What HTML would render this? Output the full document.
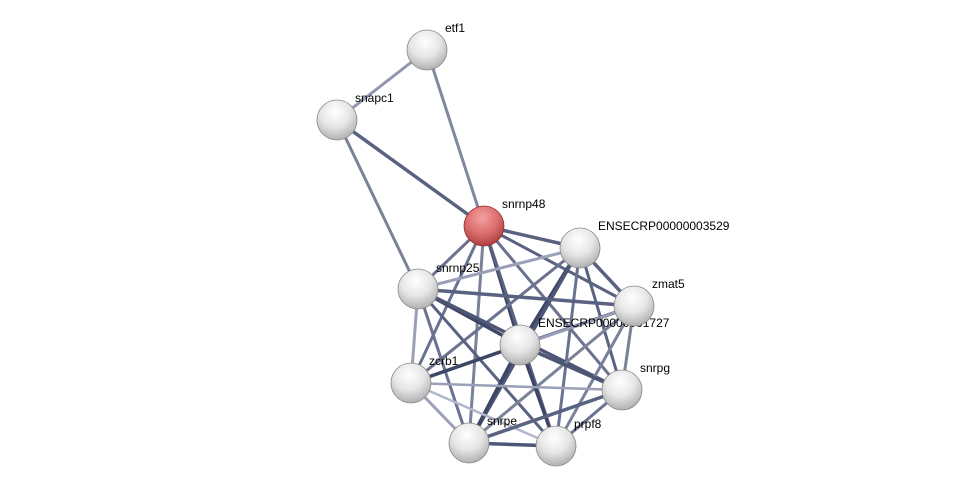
<!DOCTYPE html>
<html><head><meta charset="utf-8"><style>
html,body{margin:0;padding:0;background:#fff;}
svg{display:block;}
text{font-family:"Liberation Sans",sans-serif;font-size:12px;fill:#000;}
</style></head><body>
<svg width="975" height="491" viewBox="0 0 975 491" xmlns="http://www.w3.org/2000/svg">
<defs>
<radialGradient id="g" cx="0.45" cy="0.3" r="0.75">
<stop offset="0" stop-color="#ffffff"/><stop offset="0.5" stop-color="#e6e6e6"/><stop offset="1" stop-color="#a8a8a8"/>
</radialGradient>
<radialGradient id="r" cx="0.45" cy="0.3" r="0.75">
<stop offset="0" stop-color="#f4a0a0"/><stop offset="0.5" stop-color="#de7070"/><stop offset="1" stop-color="#a83838"/>
</radialGradient>
</defs>
<g stroke-linecap="round" fill="none">
<line x1="427" y1="50" x2="337" y2="120" stroke="#9096ae" stroke-width="3"/>
<line x1="427" y1="50" x2="484" y2="226" stroke="#8088a0" stroke-width="3"/>
<line x1="337" y1="120" x2="484" y2="226" stroke="#5a6282" stroke-width="3.5"/>
<line x1="337" y1="120" x2="418" y2="289" stroke="#7a8298" stroke-width="3"/>
<line x1="484" y1="226" x2="580" y2="248" stroke="#5a6282" stroke-width="3.5"/>
<line x1="484" y1="226" x2="418" y2="289" stroke="#6a7290" stroke-width="3"/>
<line x1="484" y1="226" x2="634" y2="306" stroke="#5a6282" stroke-width="3"/>
<line x1="484" y1="226" x2="520" y2="345" stroke="#3e4666" stroke-width="3.5"/>
<line x1="484" y1="226" x2="411" y2="383" stroke="#6a7290" stroke-width="3"/>
<line x1="484" y1="226" x2="622" y2="390" stroke="#6a7290" stroke-width="3"/>
<line x1="484" y1="226" x2="469" y2="443" stroke="#7a8298" stroke-width="3"/>
<line x1="484" y1="226" x2="556" y2="446" stroke="#5a6282" stroke-width="3"/>
<line x1="580" y1="248" x2="418" y2="289" stroke="#9aa0b8" stroke-width="3"/>
<line x1="580" y1="248" x2="634" y2="306" stroke="#5a6282" stroke-width="3.5"/>
<line x1="580" y1="248" x2="520" y2="345" stroke="#3e4666" stroke-width="3.5"/>
<line x1="580" y1="248" x2="411" y2="383" stroke="#6a7290" stroke-width="3"/>
<line x1="580" y1="248" x2="622" y2="390" stroke="#5a6282" stroke-width="3"/>
<line x1="580" y1="248" x2="469" y2="443" stroke="#4e5676" stroke-width="3.5"/>
<line x1="580" y1="248" x2="556" y2="446" stroke="#6a7290" stroke-width="3"/>
<line x1="418" y1="289" x2="634" y2="306" stroke="#5a6282" stroke-width="3.5"/>
<line x1="418" y1="289" x2="520" y2="345" stroke="#3e4666" stroke-width="3.5"/>
<line x1="418" y1="289" x2="411" y2="383" stroke="#9aa0b8" stroke-width="3"/>
<line x1="418" y1="289" x2="622" y2="390" stroke="#4e5676" stroke-width="3.5"/>
<line x1="418" y1="289" x2="469" y2="443" stroke="#6a7290" stroke-width="3"/>
<line x1="418" y1="289" x2="556" y2="446" stroke="#5a6282" stroke-width="3"/>
<line x1="634" y1="306" x2="520" y2="345" stroke="#5a6282" stroke-width="3.5"/>
<line x1="634" y1="306" x2="411" y2="383" stroke="#9aa0b8" stroke-width="2.5"/>
<line x1="634" y1="306" x2="622" y2="390" stroke="#7a8298" stroke-width="3"/>
<line x1="634" y1="306" x2="469" y2="443" stroke="#7a8298" stroke-width="3"/>
<line x1="634" y1="306" x2="556" y2="446" stroke="#7a8298" stroke-width="3"/>
<line x1="520" y1="345" x2="411" y2="383" stroke="#3e4666" stroke-width="3.5"/>
<line x1="520" y1="345" x2="622" y2="390" stroke="#4e5676" stroke-width="3.5"/>
<line x1="520" y1="345" x2="469" y2="443" stroke="#3e4666" stroke-width="3.5"/>
<line x1="520" y1="345" x2="556" y2="446" stroke="#3e4666" stroke-width="3.5"/>
<line x1="411" y1="383" x2="622" y2="390" stroke="#9aa0b8" stroke-width="2.5"/>
<line x1="411" y1="383" x2="469" y2="443" stroke="#9aa0b8" stroke-width="3"/>
<line x1="411" y1="383" x2="556" y2="446" stroke="#b0b6cc" stroke-width="2.5"/>
<line x1="622" y1="390" x2="469" y2="443" stroke="#5a6282" stroke-width="3.5"/>
<line x1="622" y1="390" x2="556" y2="446" stroke="#6a7290" stroke-width="3"/>
<line x1="469" y1="443" x2="556" y2="446" stroke="#4e5676" stroke-width="3.5"/>
</g>
<text x="538" y="327">ENSECRP00000001727</text>
<g stroke="#888" stroke-width="0.8">
<circle cx="427" cy="50" r="20" fill="url(#g)"/>
<circle cx="337" cy="120" r="20" fill="url(#g)"/>
<circle cx="484" cy="226" r="20" fill="url(#r)" stroke="#903030"/>
<circle cx="580" cy="248" r="20" fill="url(#g)"/>
<circle cx="418" cy="289" r="20" fill="url(#g)"/>
<circle cx="634" cy="306" r="20" fill="url(#g)"/>
<circle cx="520" cy="345" r="20" fill="url(#g)"/>
<circle cx="411" cy="383" r="20" fill="url(#g)"/>
<circle cx="622" cy="390" r="20" fill="url(#g)"/>
<circle cx="469" cy="443" r="20" fill="url(#g)"/>
<circle cx="556" cy="446" r="20" fill="url(#g)"/>
</g>
<text x="445" y="32">etf1</text>
<text x="355" y="102">snapc1</text>
<text x="502" y="208">snrnp48</text>
<text x="598" y="230">ENSECRP00000003529</text>
<text x="436" y="272">snrnp25</text>
<text x="652" y="288">zmat5</text>
<text x="429" y="365">zcrb1</text>
<text x="640" y="372">snrpg</text>
<text x="487" y="425">snrpe</text>
<text x="574" y="428">prpf8</text>
</svg>
</body></html>
